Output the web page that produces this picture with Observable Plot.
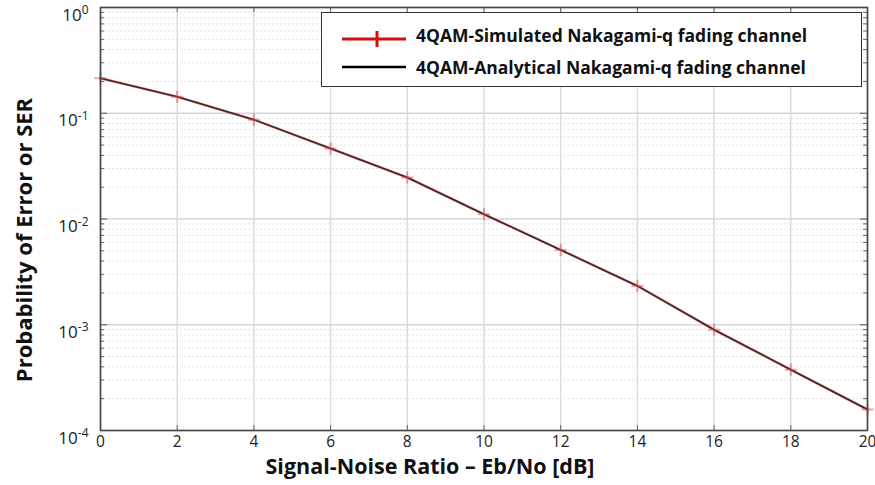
<!DOCTYPE html>
<html><head><meta charset="utf-8">
<script src="https://cdn.jsdelivr.net/npm/d3@7"></script>
<script src="https://cdn.jsdelivr.net/npm/@observablehq/plot@0.6"></script>
<style>
body{margin:0;background:#fff;}
#wrap{position:relative;width:875px;height:485px;font-family:"Open Sans",Lato,sans-serif;}
#legend{position:absolute;left:321px;top:12px;width:539px;height:73px;border:1.5px solid #333;background:#fff;}
#legend .row{position:absolute;left:0;height:24px;width:100%;}
#legend svg{position:absolute;left:18px;}
#legend span{position:absolute;left:94px;top:0;font-weight:bold;font-size:17.5px;color:#111;line-height:24px;white-space:nowrap;}
</style></head><body><div id="wrap"></div>
<script>
// ---- data ----
const snrDb = [0, 2, 4, 6, 8, 10, 12, 14, 16, 18, 20];
const simulatedSER = [0.214, 0.143, 0.087, 0.0465, 0.0247, 0.0111, 0.0051, 0.00233, 0.000897, 0.000376, 0.000158];
const analyticalSER = [0.214, 0.143, 0.087, 0.0465, 0.0247, 0.0111, 0.0051, 0.00233, 0.000897, 0.000376, 0.000158];
const xTicks = [0, 2, 4, 6, 8, 10, 12, 14, 16, 18, 20];
const yTicks = [1e-4, 1e-3, 1e-2, 1e-1, 1];
const yExponents = ["-4", "-3", "-2", "-1", "0"];
const seriesNames = ["4QAM-Simulated Nakagami-q fading channel", "4QAM-Analytical Nakagami-q fading channel"];
const xLabel = "Signal-Noise Ratio \u2013 Eb/No [dB]";
const yLabel = "Probability of Error or SER";

const sim = snrDb.map((x, i) => ({x, y: simulatedSER[i]}));
const ana = snrDb.map((x, i) => ({x, y: analyticalSER[i]}));
const minorY = [];
for (let e = -4; e < 0; e++) for (let k = 2; k <= 9; k++) minorY.push(k * Math.pow(10, e));

const W = 875, H = 485, mL = 100, mR = 8, mT = 7, mB = 55;
const pw = W - mL - mR, ph = H - mT - mB;

const chart = Plot.plot({
  width: W, height: H,
  marginLeft: mL, marginRight: mR, marginTop: mT, marginBottom: mB,
  style: {fontFamily: "'Open Sans', Lato, sans-serif", background: "#fff", color: "#222", overflow: "visible"},
  x: {domain: [0, 20]},
  y: {type: "log", domain: [1e-4, 1]},
  marks: [
    Plot.gridY(minorY, {stroke: "#e3e3e3", strokeOpacity: 1, strokeDasharray: "2,2"}),
    Plot.gridX(xTicks, {stroke: "#dcdcdc", strokeOpacity: 1, strokeWidth: 1.5}),
    Plot.gridY(yTicks, {stroke: "#d6d6d6", strokeOpacity: 1, strokeWidth: 1.3}),
    Plot.tickY(minorY, {y: d => d, insetRight: pw - 4, stroke: "#666"}),
    Plot.tickY(minorY, {y: d => d, insetLeft: pw - 4, stroke: "#666"}),
    Plot.tickY(yTicks, {y: d => d, insetRight: pw - 7, stroke: "#555"}),
    Plot.tickY(yTicks, {y: d => d, insetLeft: pw - 7, stroke: "#555"}),
    Plot.tickX(xTicks, {x: d => d, insetTop: ph - 5, stroke: "#666"}),
    Plot.tickX(xTicks, {x: d => d, insetBottom: ph - 5, stroke: "#666"}),
    Plot.line(sim, {x: "x", y: "y", stroke: "#d42020", strokeWidth: 2.6, strokeOpacity: 0.5}),
    Plot.line(ana, {x: "x", y: "y", stroke: "#3b2626", strokeWidth: 1.6}),
    Plot.dot(sim, {x: "x", y: "y", symbol: "plus", r: 4, stroke: "#e04848", strokeWidth: 2, strokeOpacity: 0.5}),
    Plot.frame({stroke: "#444", strokeWidth: 1.6}),
    Plot.axisX({ticks: xTicks, tickSize: 0, tickPadding: 5, fontSize: 15.5, label: null, tickFormat: d => String(d)}),
    Plot.axisY({ticks: yTicks, tickSize: 0, tickPadding: 12, fontSize: 17, label: null, tickFormat: d => "10|" + yExponents[yTicks.indexOf(d)]}),
    Plot.text([xLabel], {frameAnchor: "bottom", textAnchor: "middle", dx: -54, dy: 43, lineAnchor: "bottom", fontSize: 21.5, fontWeight: "bold", fill: "#111"}),
    Plot.text([yLabel], {frameAnchor: "left", textAnchor: "middle", rotate: -90, dx: -69, dy: 21, lineAnchor: "bottom", fontSize: 22, fontWeight: "bold", fill: "#111"})
  ]
});

// superscript exponents on y tick labels
d3.select(chart).selectAll('g[aria-label="y-axis tick label"] text').each(function() {
  const t = d3.select(this);
  const parts = t.text().split("|");
  t.text(parts[0]);
  t.append("tspan").attr("dy", "-0.55em").attr("font-size", 12).text(parts[1]);
  t.attr("dy", "0.45em");
});

const wrap = document.getElementById("wrap");
wrap.appendChild(chart);

// legend
const lg = document.createElement("div");
lg.id = "legend";
lg.innerHTML =
  '<div class="row" style="top:10px"><svg width="66" height="24" style="top:4px"><line x1="2" x2="66" y1="12" y2="12" stroke="#d01010" stroke-width="3"/><line x1="37" x2="37" y1="4" y2="20" stroke="#d01010" stroke-width="3"/></svg><span>' + seriesNames[0] + '</span></div>' +
  '<div class="row" style="top:42px"><svg width="66" height="24" style="top:0"><line x1="2" x2="66" y1="12" y2="12" stroke="#000" stroke-width="2.5"/></svg><span>' + seriesNames[1] + '</span></div>';
wrap.appendChild(lg);
</script></body></html>
